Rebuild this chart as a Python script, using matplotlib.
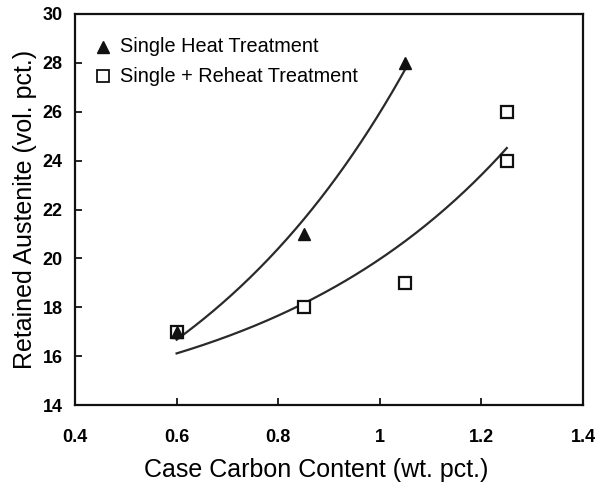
import numpy as np
import matplotlib
matplotlib.use("Agg")
import matplotlib.pyplot as plt

plt.rcParams['font.family'] = ['Liberation Sans', 'DejaVu Sans']

single_x = [0.6, 0.85, 1.05]
single_y = [17, 21, 28]
reheat_x = [0.6, 0.85, 1.05, 1.25, 1.25]
reheat_y = [17, 18, 19, 26, 24]
xticks = [0.4, 0.6, 0.8, 1.0, 1.2, 1.4]
xticklabels = ['0.4', '0.6', '0.8', '1', '1.2', '1.4']
yticks = [14, 16, 18, 20, 22, 24, 26, 28, 30]


def expfit(x, y, k=2.0):
    x = np.asarray(x, float)
    y = np.asarray(y, float)
    A = np.column_stack([np.ones_like(x), np.exp(k * x)])
    coef, *_ = np.linalg.lstsq(A, y, rcond=None)
    xs = np.linspace(x.min(), x.max(), 200)
    return xs, coef[0] + coef[1] * np.exp(k * xs)


fig = plt.figure(figsize=(5.99, 4.84), dpi=100)
ax = fig.add_axes([75/599, 1-405/484, (583-75)/599, (405-14)/484])

c = '#2a2a2a'
xs1, ys1 = expfit(single_x, single_y)
ax.plot(xs1, ys1, color=c, lw=1.6)
xs2, ys2 = expfit(reheat_x, reheat_y)
ax.plot(xs2, ys2, color=c, lw=1.6)

ax.plot(reheat_x, reheat_y, 's', ms=9, mfc='white', mec='#111', mew=1.6, ls='none')
ax.plot(single_x, single_y, '^', ms=9, color='#111', ls='none')

ax.set_xlim(0.4, 1.4)
ax.set_ylim(14, 30)
ax.set_xticks(xticks)
ax.set_xticklabels(xticklabels)
ax.set_yticks(yticks)
ax.tick_params(direction='in', length=5, width=1.2, labelsize=13)
ax.tick_params(axis='x', pad=17)
ax.tick_params(axis='y', pad=9)
for lab in ax.get_xticklabels() + ax.get_yticklabels():
    lab.set_fontweight('bold')
for s in ax.spines.values():
    s.set_linewidth(1.6)
    s.set_color('#111')

ax.set_xlabel('Case Carbon Content (wt. pct.)', fontsize=18, labelpad=8)
ax.xaxis.set_label_coords(0.474, -0.135)
ax.set_ylabel('Retained Austenite (vol. pct.)', fontsize=18, labelpad=4)

ax.plot([0.455], [28.65], '^', ms=8, color='#111', clip_on=False)
ax.text(0.488, 28.65, 'Single Heat Treatment', fontsize=14.3, va='center')
ax.plot([0.455], [27.45], 's', ms=8, mfc='white', mec='#111', mew=1.3, clip_on=False)
ax.text(0.488, 27.45, 'Single + Reheat Treatment', fontsize=14.3, va='center')

fig.savefig('out.png', dpi=100)
